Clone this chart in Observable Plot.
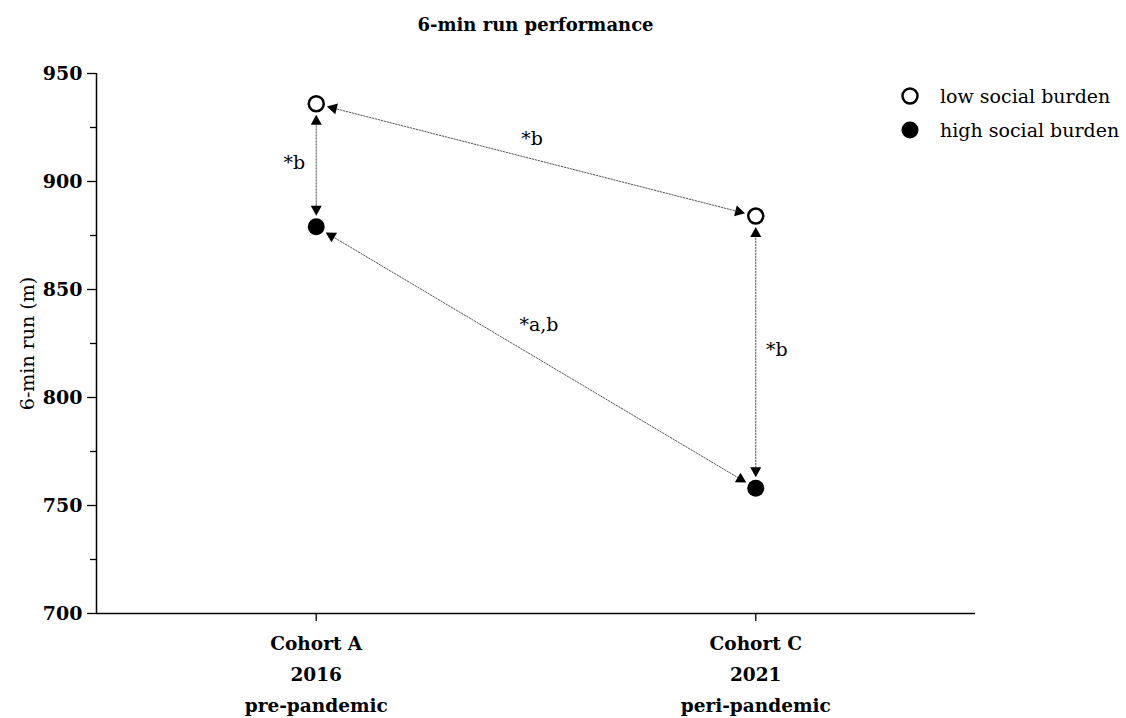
<!DOCTYPE html>
<html><head><meta charset="utf-8">
<script src="https://cdn.jsdelivr.net/npm/d3@7"></script>
<script src="https://cdn.jsdelivr.net/npm/@observablehq/plot@0.6"></script>
<style>
body{margin:0;background:#fff;font-family:"DejaVu Serif",serif;color:#000;}
#wrap{position:relative;width:1126px;height:718px;overflow:hidden;}
#title{position:absolute;left:96px;width:879px;top:13px;text-align:center;font-weight:bold;font-size:18px;line-height:24px;}
#chart{position:absolute;left:0;top:50px;}
#legend{position:absolute;left:900px;top:79px;font-size:19px;}
.li{display:flex;align-items:center;height:34px;}
.li svg{margin-right:20px;}
</style></head><body>
<div id="wrap"><div id="title"></div><div id="chart"></div><div id="legend"></div></div>
<script>
// ---- data ----
const titleText = "6-min run performance";
const yLabel = "6-min run (m)";
const cohortLabels = ["Cohort A\n2016\npre-pandemic", "Cohort C\n2021\nperi-pandemic"];
const groupNames = ["low social burden", "high social burden"];
const lowValues = [936, 884];
const highValues = [879, 758];
const yTicks = [700, 750, 800, 850, 900, 950];
const yMinorTicks = [725, 775, 825, 875, 925];
// comparisons: [cohort index, group] -> [cohort index, group], label
const compFrom = [[0, "low"], [0, "low"], [0, "high"], [1, "low"]];
const compTo = [[0, "high"], [1, "low"], [1, "high"], [1, "high"]];
const compLabels = ["*b", "*b", "*a,b", "*b"];
// label offsets in pixels (style)
const labelOffsets = [[-22, -2], [-4, -21], [3, -33], [21, -2]];

// ---- build ----
document.getElementById("title").textContent = titleText;
const valueOf = ([i, g]) => (g === "low" ? lowValues : highValues)[i];
const points = [];
cohortLabels.forEach((c, i) => {
  points.push({x: i, y: lowValues[i], group: "low"});
  points.push({x: i, y: highValues[i], group: "high"});
});
const comps = compFrom.map((f, k) => ({
  x1: f[0], y1: valueOf(f), x2: compTo[k][0], y2: valueOf(compTo[k]), label: compLabels[k]
}));

function headMarker() {
  const m = d3.create("svg:marker")
    .attr("viewBox", "-30 -10 40 20")
    .attr("markerUnits", "userSpaceOnUse")
    .attr("markerWidth", 40).attr("markerHeight", 20)
    .attr("refX", 0).attr("refY", 0)
    .attr("orient", "auto-start-reverse")
    .attr("overflow", "visible");
  m.append("path").attr("d", "M-11,0L-21,-5.5L-21,5.5Z").attr("fill", "black").attr("stroke", "none");
  return m.node();
}

const chart = Plot.plot({
  width: 1126, height: 668,
  marginTop: 23, marginBottom: 105, marginLeft: 96, marginRight: 151,
  style: {fontFamily: "DejaVu Serif", fontSize: "18px", color: "#000", background: "transparent"},
  x: {domain: [-0.5, 1.5], axis: null},
  y: {domain: [700, 950], axis: null},
  marks: [
    Plot.ruleY([700], {stroke: "black", strokeWidth: 1.5}),
    Plot.ruleX([-0.5], {stroke: "black", strokeWidth: 1.5}),
    Plot.axisY({ticks: yTicks, tickSize: 9, tickPadding: 5, fontWeight: "bold", fontSize: 19, label: null, strokeWidth: 1.3}),
    Plot.axisY({ticks: yMinorTicks, tickSize: 6, tickFormat: () => "", label: null, strokeWidth: 1.3}),
    Plot.axisX({ticks: [0, 1], tickSize: 8, tickPadding: 6, tickFormat: i => cohortLabels[i], lineHeight: 1.68, fontWeight: "bold", fontSize: 18.5, label: null, strokeWidth: 1.3}),
    Plot.text([yLabel], {frameAnchor: "left", textAnchor: "middle", rotate: -90, dx: -69, fontSize: 19, text: d => d}),
    Plot.arrow(comps, {x1: "x1", y1: "y1", x2: "x2", y2: "y2", headLength: 0, insetStart: 13, insetEnd: 13, stroke: "#555", strokeWidth: 1, strokeDasharray: "1.5,1.5"}),
    Plot.link(comps, {x1: "x1", y1: "y1", x2: "x2", y2: "y2", stroke: "black", strokeOpacity: 0, markerStart: headMarker, markerEnd: headMarker}),
    ...comps.map((c, k) => Plot.text([c], {
      x: d => (d.x1 + d.x2) / 2, y: d => (d.y1 + d.y2) / 2, text: "label",
      dx: labelOffsets[k][0], dy: labelOffsets[k][1], fontSize: 19
    })),
    Plot.dot(points.filter(d => d.group === "low"), {x: "x", y: "y", r: 7.5, fill: "white", stroke: "black", strokeWidth: 2.5}),
    Plot.dot(points.filter(d => d.group === "high"), {x: "x", y: "y", r: 8.5, fill: "black", stroke: "none"})
  ]
});
document.getElementById("chart").appendChild(chart);

// legend
const legend = document.getElementById("legend");
groupNames.forEach((g, i) => {
  const row = document.createElement("div");
  row.className = "li";
  const filled = i === 1;
  row.innerHTML = `<svg width="20" height="20"><circle cx="10" cy="10" r="${filled ? 8.5 : 7.5}" fill="${filled ? "black" : "white"}" stroke="${filled ? "none" : "black"}" stroke-width="2.5"></circle></svg><span>${g}</span>`;
  legend.appendChild(row);
});
</script>
</body></html>
